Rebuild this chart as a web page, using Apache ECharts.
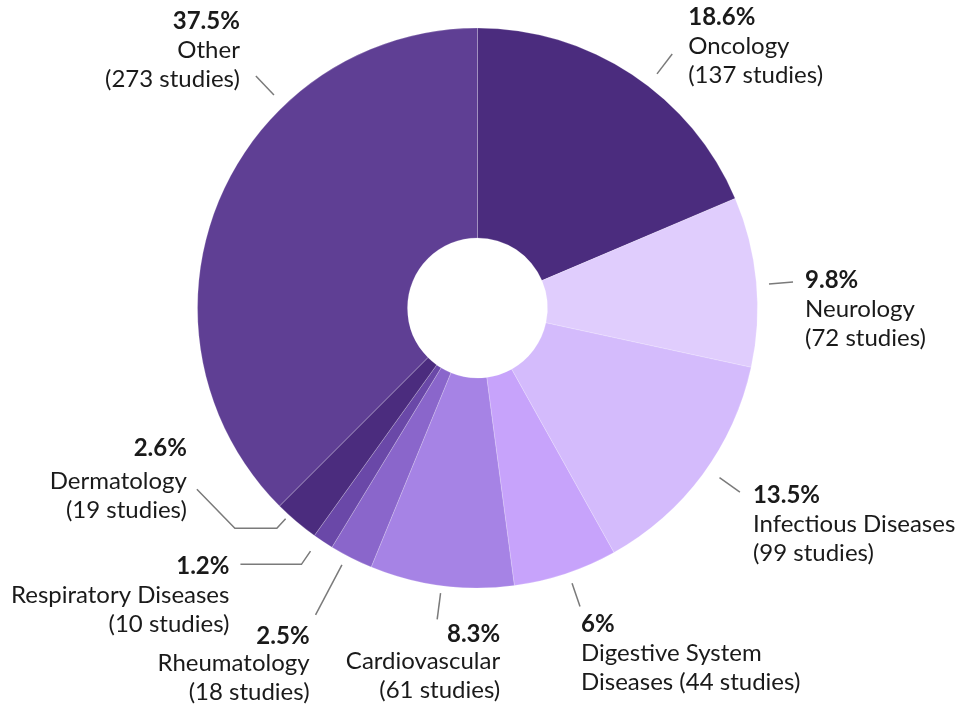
<!DOCTYPE html>
<html>
<head>
<meta charset="utf-8">
<script src="https://cdn.jsdelivr.net/npm/echarts@6/dist/echarts.min.js"></script>
<style>
  html, body { margin: 0; padding: 0; background: #fff; }
  #chart { width: 956px; height: 704px; }
</style>
</head>
<body>
<div id="chart"></div>
<script>
// slices, clockwise from 12 o'clock
var categories = ['Oncology', 'Neurology', 'Infectious Diseases', 'Digestive System Diseases',
  'Cardiovascular', 'Rheumatology', 'Respiratory Diseases', 'Dermatology', 'Other'];
var shares = [18.6, 9.8, 13.5, 6, 8.3, 2.5, 1.2, 2.6, 37.5];
var studies = [137, 72, 99, 44, 61, 18, 10, 19, 273];

var colors = ['#4b2c7e', '#e0cdfd', '#d4bbfc', '#c7a3fb', '#a683e5', '#8a66cb', '#6a48a8', '#4b2c7e', '#5f3f94'];

var CX = 477.5, CY = 308, R = 280, R0 = 70;

// leader line + label placement (turn = degrees off the slice middle,
// r1/r2 = start/end of radial segment past the rim, legs = extra segments,
// dx/dy = label block anchor relative to the line end, pct = rich style of first line)
var labelSpots = [
  { turn: 4, r1: 15, r2: 40, legs: [], dx: 16, dy: -51.5, align: 'left', pct: 'pct' },
  { turn: 0.7, r1: 12.5, r2: 36.6, legs: [], dx: 12, dy: -16.5, align: 'left', pct: 'pct' },
  { turn: -1.5, r1: 15.6, r2: 40.5, legs: [], dx: 13, dy: -11, align: 'left', pct: 'pct' },
  { turn: -0.6, r1: 11, r2: 35.5, legs: [], dx: 1, dy: 3.5, align: 'left', pct: 'pct' },
  { turn: 0, r1: 7.5, r2: 34, legs: [], dx: 63, dy: 2.5, align: 'right', pct: 'pctTight' },
  { turn: 1, r1: 10.5, r2: 67, legs: [], dx: -6, dy: 8.5, align: 'right', pct: 'pctTight' },
  { turn: 1, r1: 15, r2: 31, legs: [[-61, 0]], dx: -11, dy: -13, align: 'right', pct: 'pct' },
  { turn: 2, r1: 5, r2: 18, legs: [[-42, 0], [-38, -39]], dx: -10, dy: -59.5, align: 'right', pct: 'pctLoose' },
  { turn: 23.8, r1: 14.6, r2: 40.8, legs: [], dx: -16, dy: -69.5, align: 'right', pct: 'pct' }
];

function labelText(i) {
  var words = categories[i].split(' ');
  var tail = '(' + studies[i] + ' studies)';
  var pct = '{' + labelSpots[i].pct + '|' + shares[i] + '%}';
  var body;
  if (words.length > 2) {
    body = '{txt|' + words.slice(0, 2).join(' ') + '}\n{txt|' + words.slice(2).join(' ') + ' ' + tail + '}';
  } else {
    body = '{txt|' + categories[i] + '}\n{txt|' + tail + '}';
  }
  return pct + '\n' + body;
}

function polar(a, d) {
  return [CX + d * Math.sin(a), CY - d * Math.cos(a)];
}

var pieData = [];
for (var i = 0; i < categories.length; i++) {
  pieData.push({
    name: categories[i],
    value: shares[i],
    itemStyle: { color: colors[i] }
  });
}

var chart = echarts.init(document.getElementById('chart'), null, { renderer: 'canvas' });

chart.setOption({
  animation: false,
  series: [{
    type: 'pie',
    center: [CX, CY],
    radius: [R0, R],
    startAngle: 90,
    clockwise: true,
    avoidLabelOverlap: false,
    minShowLabelAngle: 0,
    itemStyle: {
      borderColor: 'rgba(255,255,255,0.35)',
      borderWidth: 0.6
    },
    label: {
      show: true,
      position: 'outside',
      formatter: function (p) { return labelText(p.dataIndex); },
      color: '#1a1a1a',
      fontFamily: 'Lato',
      rich: {
        pct: { fontFamily: 'Lato', fontWeight: 'bold', fontSize: 24, lineHeight: 29, color: '#1a1a1a' },
        pctTight: { fontFamily: 'Lato', fontWeight: 'bold', fontSize: 24, lineHeight: 25, color: '#1a1a1a' },
        pctLoose: { fontFamily: 'Lato', fontWeight: 'bold', fontSize: 24, lineHeight: 37, color: '#1a1a1a' },
        txt: { fontFamily: 'Lato', fontSize: 24, lineHeight: 29, color: '#1a1a1a' }
      }
    },
    labelLine: {
      show: true,
      length: 10,
      length2: 5,
      lineStyle: { color: '#7a7a7a', width: 1.5 }
    },
    labelLayout: function (params) {
      var s = labelSpots[params.dataIndex];
      var p0 = params.labelLinePoints[0];
      var a = Math.atan2(p0[0] - CX, CY - p0[1]) + s.turn * Math.PI / 180;
      var pts = [polar(a, R + s.r1), polar(a, R + s.r2)];
      for (var k = 0; k < s.legs.length; k++) {
        var last = pts[pts.length - 1];
        pts.push([last[0] + s.legs[k][0], last[1] + s.legs[k][1]]);
      }
      var end = pts[pts.length - 1];
      return {
        x: end[0] + s.dx,
        y: end[1] + s.dy,
        align: s.align,
        verticalAlign: 'top',
        labelLinePoints: pts
      };
    },
    emphasis: { disabled: true },
    data: pieData
  }]
});
</script>
</body>
</html>
